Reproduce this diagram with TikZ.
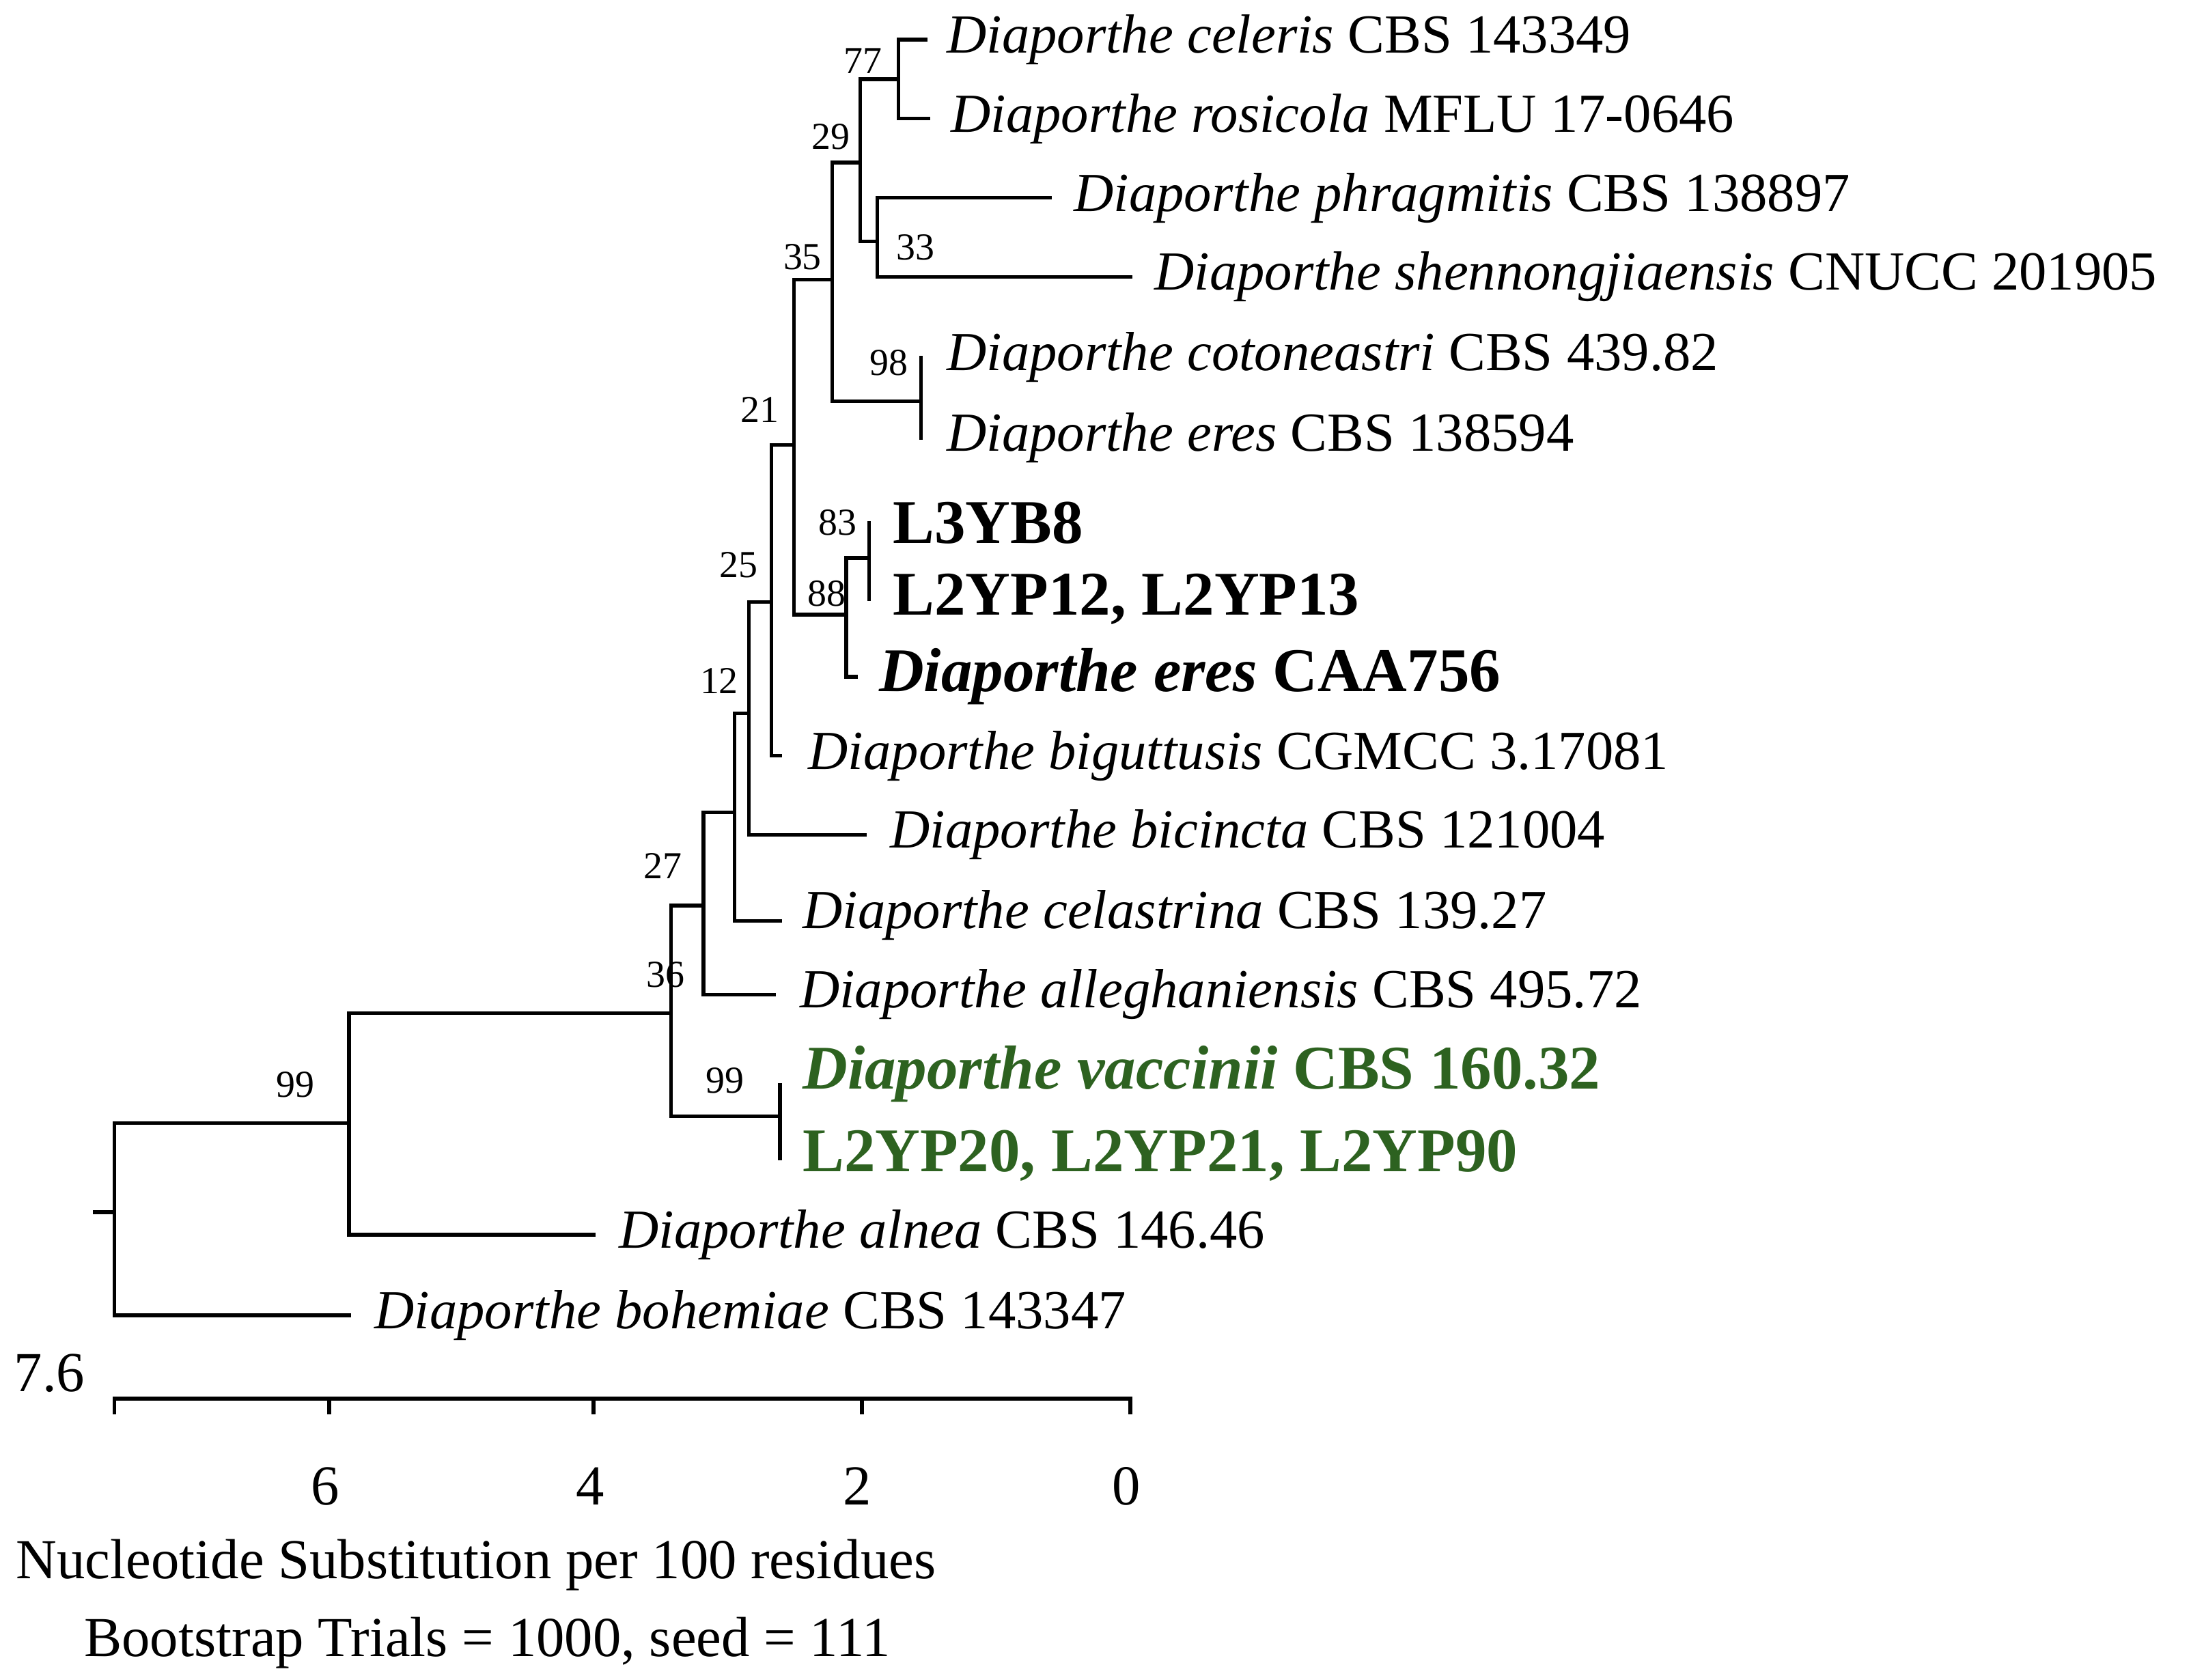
\documentclass[tikz,border=0pt]{standalone}
\usepackage{fontspec}
\setmainfont{Liberation Serif}
\definecolor{tg}{RGB}{45,98,32}
\begin{document}
\begin{tikzpicture}[x=1pt,y=-1pt,
  br/.style={line width=2.6pt,line cap=rect},
  lf/.style={anchor=west,inner sep=0pt,font=\fontsize{39}{39}\selectfont},
  bl/.style={anchor=west,inner sep=0pt,font=\fontsize{44}{44}\selectfont\bfseries},
  bs/.style={inner sep=0pt,font=\fontsize{27}{27}\selectfont},
  ax/.style={inner sep=0pt,font=\fontsize{40}{40}\selectfont}]
\useasboundingbox (0,0) rectangle (1560,1189);
% internal nodes
\coordinate (stub) at (67,858);
\coordinate (root) at (81,858);
\coordinate (n99a) at (247,795);
\coordinate (n36) at (475,717);
\coordinate (n99b) at (552,790);
\coordinate (n27) at (498,641);
\coordinate (nB) at (520,575);
\coordinate (nC) at (530,505);
\coordinate (nD) at (546,426);
\coordinate (nE) at (562,315);
\coordinate (nF) at (589,198);
\coordinate (nH) at (609,115);
\coordinate (n77) at (636,56);
\coordinate (nJ) at (621,171);
\coordinate (nK) at (652,284);
\coordinate (nG) at (599,435);
\coordinate (nI) at (615,395);
% tips
\coordinate (t1) at (655,28);
\coordinate (t2) at (657,84);
\coordinate (t3) at (743,140);
\coordinate (t4) at (800,196);
\coordinate (t5) at (652,253);
\coordinate (t6) at (652,310);
\coordinate (t7) at (615,370);
\coordinate (t8) at (615,424);
\coordinate (t9) at (606,479);
\coordinate (t10) at (552,535);
\coordinate (t11) at (612,591);
\coordinate (t12) at (552,652);
\coordinate (t13) at (548,704);
\coordinate (t14) at (552,768);
\coordinate (t15) at (552,820);
\coordinate (t16) at (420,874);
\coordinate (t17) at (247,931);
% branches
\draw[br] (stub) -- (root);
\draw[br] (root) |- (n99a);
\draw[br] (root) |- (t17);
\draw[br] (n99a) |- (n36);
\draw[br] (n99a) |- (t16);
\draw[br] (n36) |- (n27);
\draw[br] (n36) |- (n99b);
\draw[br] (t14) -- (t15);
\draw[br] (n27) |- (nB);
\draw[br] (n27) |- (t13);
\draw[br] (nB) |- (nC);
\draw[br] (nB) |- (t12);
\draw[br] (nC) |- (nD);
\draw[br] (nC) |- (t11);
\draw[br] (nD) |- (nE);
\draw[br] (nD) |- (t10);
\draw[br] (nE) |- (nF);
\draw[br] (nE) |- (nG);
\draw[br] (nG) |- (nI);
\draw[br] (nG) |- (t9);
\draw[br] (t7) -- (t8);
\draw[br] (nF) |- (nH);
\draw[br] (nF) |- (nK);
\draw[br] (t5) -- (t6);
\draw[br] (nH) |- (n77);
\draw[br] (nH) |- (nJ);
\draw[br] (n77) |- (t1);
\draw[br] (n77) |- (t2);
\draw[br] (nJ) |- (t3);
\draw[br] (nJ) |- (t4);
% leaf labels
\node[lf] (l1) at (670,28) {\textit{Diaporthe celeris} CBS 143349};
\node[lf] (l2) at (673,84) {\textit{Diaporthe rosicola} MFLU 17-0646};
\node[lf] (l3) at (760,140) {\textit{Diaporthe phragmitis} CBS 138897};
\node[lf] (l4) at (817,196) {\textit{Diaporthe shennongjiaensis} CNUCC 201905};
\node[lf] (l5) at (670,253) {\textit{Diaporthe cotoneastri} CBS 439.82};
\node[lf] (l6) at (670,310) {\textit{Diaporthe eres} CBS 138594};
\node[bl] (l7) at (632,370) {L3YB8};
\node[bl] (l8) at (632,424) {L2YP12, L2YP13};
\node[bl] (l9) at (622,479) {\textit{Diaporthe eres} CAA756};
\node[lf] (l10) at (572,535) {\textit{Diaporthe biguttusis} CGMCC 3.17081};
\node[lf] (l11) at (630,591) {\textit{Diaporthe bicincta} CBS 121004};
\node[lf] (l12) at (568,648) {\textit{Diaporthe celastrina} CBS 139.27};
\node[lf] (l13) at (566,704) {\textit{Diaporthe alleghaniensis} CBS 495.72};
\node[bl,text=tg] (l14) at (568,760) {\textit{Diaporthe vaccinii} CBS 160.32};
\node[bl,text=tg] (l15) at (568,818) {L2YP20, L2YP21, L2YP90};
\node[lf] (l16) at (438,874) {\textit{Diaporthe alnea} CBS 146.46};
\node[lf] (l17) at (265,931) {\textit{Diaporthe bohemiae} CBS 143347};
% bootstrap values
\node[bs] (b77) at (611,43) {77};
\node[bs] (b29) at (588,97) {29};
\node[bs] (b33) at (648,175) {33};
\node[bs] (b35) at (568,182) {35};
\node[bs] (b98) at (629,257) {98};
\node[bs] (b21) at (538,290) {21};
\node[bs] (b83) at (593,370) {83};
\node[bs] (b88) at (585,420) {88};
\node[bs] (b25) at (523,400) {25};
\node[bs] (b12) at (509,482) {12};
\node[bs] (b27) at (469,613) {27};
\node[bs] (b36) at (471,690) {36};
\node[bs] (b99a) at (209,768) {99};
\node[bs] (b99b) at (513,765) {99};
% axis
\coordinate (a0) at (800,990);
\coordinate (a76) at (81,990);
\draw[br] (a76) -- (a0);
\foreach \v/\x in {7.6/81,6/233,4/420,2/610,0/800}{
  \draw[br] (\x,990) -- (\x,1000);}
\node[ax] (al76) at (35,972) {7.6};
\node[ax] (al6) at (230,1052) {6};
\node[ax] (al4) at (418,1052) {4};
\node[ax] (al2) at (607,1052) {2};
\node[ax] (al0) at (797,1052) {0};
\node[ax] (cap1) at (337,1108) {Nucleotide Substitution per 100 residues};
\node[ax] (cap2) at (345,1163) {Bootstrap Trials = 1000, seed = 111};
\end{tikzpicture}
\end{document}
